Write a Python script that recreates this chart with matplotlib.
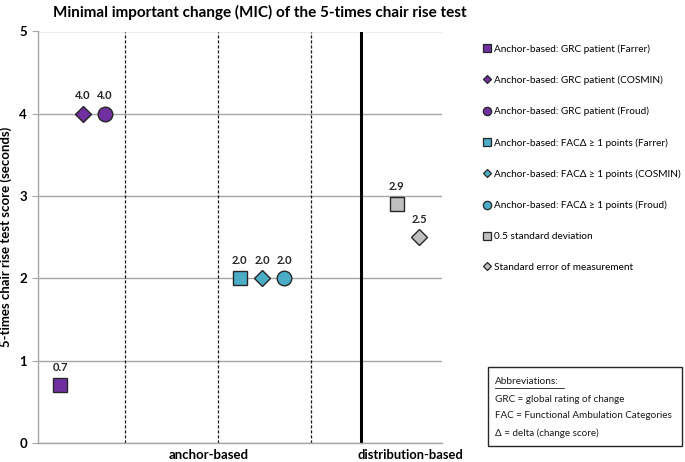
import matplotlib
matplotlib.use("Agg")
import matplotlib.pyplot as plt
from matplotlib.lines import Line2D
from matplotlib.patches import Rectangle

plt.rcParams['font.family'] = ['Lato', 'DejaVu Sans']

# ---- data ----
labels = [
    "Anchor-based: GRC patient (Farrer)",
    "Anchor-based: GRC patient (COSMIN)",
    "Anchor-based: GRC patient (Froud)",
    "Anchor-based: FAC\u0394 \u2265 1 points (Farrer)",
    "Anchor-based: FAC\u0394 \u2265 1 points (COSMIN)",
    "Anchor-based: FAC\u0394 \u2265 1 points (Froud)",
    "0.5 standard deviation",
    "Standard error of measurement",
]
x_pos = [1, 2, 3, 9, 10, 11, 16, 17]
mic = [0.7, 4.0, 4.0, 2.0, 2.0, 2.0, 2.9, 2.5]
markers = ['s', 'D', 'o', 's', 'D', 'o', 's', 'D']
colors = ['#7030A0', '#7030A0', '#7030A0', '#4BACC6', '#4BACC6', '#4BACC6', '#BFBFBF', '#BFBFBF']
sizes = [10, 8, 10.5, 10, 8, 10.5, 10, 8]
group_labels = ["anchor-based", "distribution-based"]
abbreviations = ["GRC = global rating of change",
                 "FAC = Functional Ambulation Categories",
                 "\u0394 = delta (change score)"]

fig = plt.figure(figsize=(6.85, 4.62), dpi=100)
ax = fig.add_axes([38/685, 19/462, 404/685, 411.5/462])

EDGE = '#262626'
handles = []
for xi, yi, m, c, s, lab in zip(x_pos, mic, markers, colors, sizes, labels):
    ax.plot([xi], [yi], linestyle='none', marker=m, markersize=s,
            markerfacecolor=c, markeredgecolor=EDGE, markeredgewidth=1.0, zorder=5)
    ax.annotate(f"{yi:.1f}", (xi, yi), xytext=(0, 9), textcoords='offset points',
                ha='center', va='bottom', fontsize=8, fontweight='bold', color='#262626')
    handles.append(Line2D([], [], linestyle='none', marker=m, markersize=6 if m != 'D' else 4.5,
                          markerfacecolor=c, markeredgecolor=EDGE, markeredgewidth=0.9, label=lab))

# separators
for xv in [3.87, 8.02, 12.17]:
    ax.axvline(xv, color='#1a1a1a', linestyle=(0, (2.5, 1.5)), linewidth=0.9, zorder=2)
ax.axvline(14.42, color='black', linewidth=2.2, zorder=2)

ax.set_xlim(0, 18.03)
ax.set_ylim(0, 5)
ax.set_yticks([0, 1, 2, 3, 4, 5])
ax.yaxis.grid(True, color='#a6a6a6', linewidth=1.0, zorder=1)
ax.set_axisbelow(True)
ax.set_xticks([])
for sp in ['top', 'right']:
    ax.spines[sp].set_visible(False)
ax.spines['left'].set_color('#a6a6a6')
ax.spines['bottom'].set_color('#a6a6a6')
ax.spines['left'].set_linewidth(1.0)
ax.spines['bottom'].set_linewidth(1.0)
ax.tick_params(axis='y', length=4, color='#a6a6a6', labelsize=9.5, pad=4)
for t in ax.get_yticklabels():
    t.set_fontweight('bold')
ax.set_ylabel("5-times chair rise test score (seconds)", fontsize=9.5, fontweight='bold')
ax.yaxis.set_label_coords((12 - 38) / 404, 0.5)

fig.text(260/685, 1 - 12/462, "Minimal important change (MIC) of the 5-times chair rise test",
         fontsize=11, fontweight='bold', ha='center', va='center')

# group labels below axis
ax.text(7.6, -0.14, group_labels[0], ha='center', va='center', fontsize=9.5, fontweight='bold',
        transform=ax.transData, clip_on=False)
ax.text(16.6, -0.14, group_labels[1], ha='center', va='center', fontsize=9.3, fontweight='bold',
        transform=ax.transData, clip_on=False)

# legend
leg = fig.legend(handles=handles, loc='upper left', bbox_to_anchor=(479/685, 1 - 40/462),
                 frameon=False, fontsize=7.2, handlelength=0.7, handletextpad=0.35,
                 labelspacing=2.18, borderaxespad=0)

# abbreviation box
bx0, by0, bx1, by1 = 488/685, 1 - 446/462, 682/685, 1 - 367/462
fig.patches.append(Rectangle((bx0, by0), bx1 - bx0, by1 - by0, transform=fig.transFigure,
                             fill=False, edgecolor='#262626', linewidth=1.0))
fig.text(495/685, 1 - 382/462, "Abbreviations:", fontsize=7.2, va='center', ha='left',
         color='#1a1a1a')
fig.add_artist(Line2D([495/685, 564/685], [1 - 388/462, 1 - 388/462], color='#1a1a1a',
                      linewidth=0.6, transform=fig.transFigure))
for i, t in enumerate(abbreviations):
    fig.text(495/685, 1 - (399 + 17*i)/462, t, fontsize=7.1, va='center', ha='left', color='#1a1a1a')

fig.savefig("out.png", dpi=100)
